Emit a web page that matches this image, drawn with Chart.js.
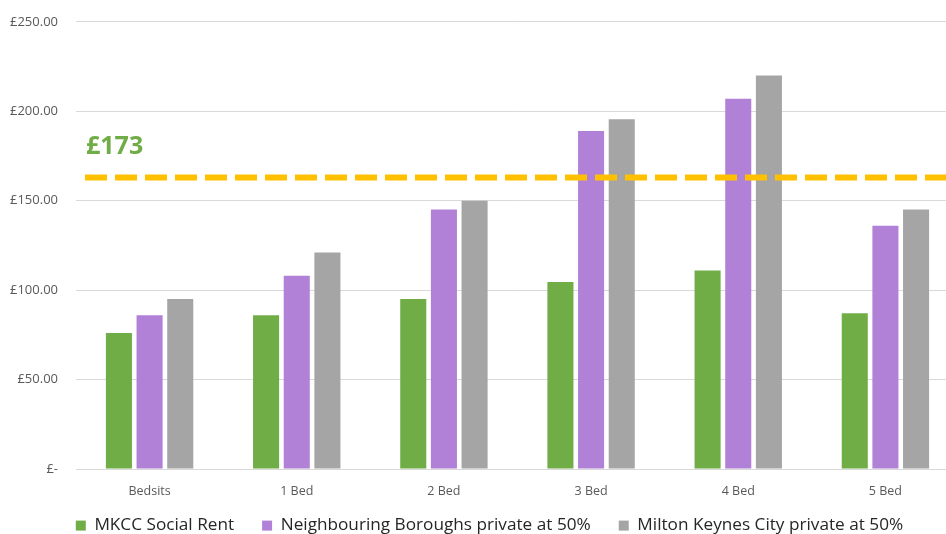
<!DOCTYPE html>
<html>
<head>
<meta charset="utf-8">
<script src="https://cdn.jsdelivr.net/npm/chart.js@4.4.1/dist/chart.umd.min.js"></script>
<style>
  html, body { margin: 0; padding: 0; background: #fff; overflow: hidden; }
  .wrap { width: 946px; height: 534px; overflow: hidden; }
  .box { width: 962px; height: 538px; margin-top: -4px; }
</style>
</head>
<body>
<div class="wrap"><div class="box"><canvas id="chart"></canvas></div></div>
<script>
const categories = ["Bedsits", "1 Bed", "2 Bed", "3 Bed", "4 Bed", "5 Bed"];
const socialRent = [76, 86, 95, 104.5, 111, 87];
const neighbouring = [86, 108, 145, 189, 207, 136];
const miltonKeynes = [95, 121, 150, 195.5, 220, 145];
const yTicks = [0, 50, 100, 150, 200, 250];
const capValue = 163;
const capLabel = "£173";

const font = "'Open Sans', sans-serif";

// dashed reference line and its label
const capLine = {
  id: "capLine",
  afterDatasetsDraw(chart) {
    const { ctx, chartArea, scales } = chart;
    const y = scales.y.getPixelForValue(capValue);
    ctx.save();
    ctx.strokeStyle = "#FFC000";
    ctx.lineWidth = 6;
    ctx.setLineDash([22, 8]);
    ctx.beginPath();
    ctx.moveTo(chartArea.left + 9, y);
    ctx.lineTo(chartArea.right, y);
    ctx.stroke();
    ctx.setLineDash([]);
    ctx.fillStyle = "#70AD47";
    ctx.font = "bold 25px " + font;
    ctx.textBaseline = "middle";
    ctx.fillText(capLabel, chartArea.left + 10, y - 31);
    ctx.restore();
  },
};

// legend: keep wide item spacing but a shorter box, nudge it into place
const legendFix = {
  id: "legendFix",
  beforeLayout(chart) {
    const legend = chart.legend;
    if (legend && !legend._patched) {
      const fit = legend.fit.bind(legend);
      legend.fit = function () {
        fit();
        this.height = 33;
      };
      legend._patched = true;
    }
  },
  afterLayout(chart) {
    const legend = chart.legend;
    legend.left += 10;
    legend.right += 10;
    legend.top = 493;
    legend.bottom = 538;
  },
};

new Chart(document.getElementById("chart"), {
  type: "bar",
  data: {
    labels: categories,
    datasets: [
      { label: "MKCC Social Rent", data: socialRent, backgroundColor: "#70AD47" },
      { label: "Neighbouring Boroughs private at 50%", data: neighbouring, backgroundColor: "#B180D7" },
      { label: "Milton Keynes City private at 50%", data: miltonKeynes, backgroundColor: "#A5A5A5" },
    ],
  },
  options: {
    responsive: true,
    maintainAspectRatio: false,
    animation: false,
    datasets: { bar: { categoryPercentage: 0.625, barPercentage: 0.85 } },
    layout: { padding: { top: 10, right: 3, left: 0, bottom: 0 } },
    plugins: {
      tooltip: { enabled: false },
      legend: {
        position: "bottom",
        labels: {
          font: { family: font, size: 17.2 },
          color: "#262626",
          boxWidth: 10,
          boxHeight: 10,
          padding: 28,
        },
      },
    },
    scales: {
      x: {
        grid: { display: false },
        border: { color: "#d9d9d9" },
        afterFit: (scale) => { scale.height = 32; },
        ticks: { font: { family: font, size: 12.5 }, color: "#595959", padding: 7 },
      },
      y: {
        min: 0,
        max: 250,
        afterBuildTicks: (scale) => { scale.ticks = yTicks.map((v) => ({ value: v })); },
        afterFit: (scale) => { scale.width = 76; },
        grid: { color: "#d9d9d9", drawTicks: false },
        border: { display: false },
        ticks: {
          font: { family: font, size: 13 },
          color: "#595959",
          padding: 18,
          callback: (v) => (v === 0 ? "£-" : "£" + v.toFixed(2)),
        },
      },
    },
  },
  plugins: [capLine, legendFix],
});
</script>
</body>
</html>
